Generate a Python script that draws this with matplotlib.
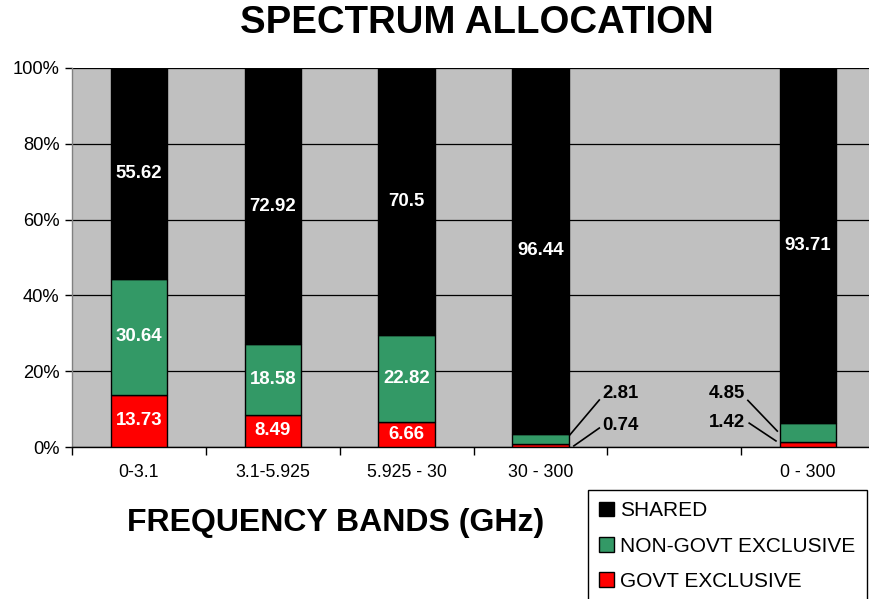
import matplotlib
matplotlib.use("Agg")
import matplotlib.pyplot as plt
from matplotlib.patches import Patch
import numpy as np

plt.rcParams['font.family'] = ['Liberation Sans', 'DejaVu Sans']

categories = ["0-3.1", "3.1-5.925", "5.925 - 30", "30 - 300", "", "0 - 300"]
govt = [13.73, 8.49, 6.66, 0.74, None, 1.42]
nongovt = [30.64, 18.58, 22.82, 2.81, None, 4.85]
shared = [55.62, 72.92, 70.5, 96.44, None, 93.71]
series_names = ["SHARED", "NON-GOVT EXCLUSIVE", "GOVT EXCLUSIVE"]
yticks = [0, 20, 40, 60, 80, 100]

c_red = "#FF0000"
c_green = "#339966"
c_black = "#000000"
c_bg = "#C0C0C0"

W, H = 869, 599
fig = plt.figure(figsize=(W / 100, H / 100), dpi=100)
left, right, top, bottom = 72, 875, 68, 447
ax = fig.add_axes([left / W, 1 - bottom / H, (right - left) / W, (bottom - top) / H])
ax.set_facecolor(c_bg)

idx = [i for i, v in enumerate(govt) if v is not None]
x = np.array(idx, dtype=float)
g = np.array([govt[i] for i in idx])
n = np.array([nongovt[i] for i in idx])
s = np.array([shared[i] for i in idx])
tot = g + n + s
gp, np_, sp = g / tot * 100, n / tot * 100, s / tot * 100

bw = 0.42
ax.bar(x, gp, bw, color=c_red, edgecolor="black", linewidth=1.0, zorder=3)
ax.bar(x, np_, bw, bottom=gp, color=c_green, edgecolor="black", linewidth=1.0, zorder=3)
ax.bar(x, sp, bw, bottom=gp + np_, color=c_black, edgecolor="black", linewidth=1.0, zorder=3)

fs_lab = 13.4
lab_kw = dict(color="white", fontsize=fs_lab, fontweight="bold", ha="center", va="center", zorder=4)
for xi, gv, nv, sv, gpp, npp, spp in zip(x, g, n, s, gp, np_, sp):
    ax.text(xi, gpp + npp + spp / 2, f"{sv:g}", **lab_kw)
    if npp > 8:
        ax.text(xi, gpp + npp / 2, f"{nv:g}", **lab_kw)
        ax.text(xi, gpp / 2, f"{gv:g}", **lab_kw)

# leader-line labels for small segments
out_kw = dict(color="black", fontsize=fs_lab, fontweight="bold", va="center", zorder=4)
i3 = idx.index(3)
i5 = idx.index(5)
ax.plot([3.22, 3.44], [3.2, 12.4], color="black", lw=1.2, zorder=4, clip_on=False)
ax.text(3.46, 14.0, f"{n[i3]:g}", ha="left", **out_kw)
ax.plot([3.25, 3.44], [0.3, 5.0], color="black", lw=1.2, zorder=4, clip_on=False)
ax.text(3.46, 5.8, f"{g[i3]:g}", ha="left", **out_kw)
ax.plot([4.55, 4.77], [12.3, 4.2], color="black", lw=1.2, zorder=4)
ax.text(4.53, 14.0, f"{n[i5]:g}", ha="right", **out_kw)
ax.plot([4.56, 4.76], [6.3, 1.6], color="black", lw=1.2, zorder=4)
ax.text(4.53, 6.5, f"{g[i5]:g}", ha="right", **out_kw)

ax.set_xlim(-0.5, len(categories) - 0.5)
ax.set_ylim(0, 100)
ax.set_yticks(yticks)
ax.set_yticklabels([f"{t}%" for t in yticks], fontsize=13.2)
ax.yaxis.grid(True, color="#000000", linewidth=0.9, zorder=1)
ax.set_axisbelow(True)

ax.set_xticks(np.arange(len(categories)))
ax.set_xticklabels(categories, fontsize=12.8)
ax.tick_params(axis="x", length=0, pad=12)
ax.set_xticks(np.arange(len(categories) + 1) - 0.5, minor=True)
ax.tick_params(axis="x", which="minor", length=6, width=1, direction="out")
ax.tick_params(axis="y", length=5, width=1, direction="out", pad=4)

for sp_name in ["top", "right"]:
    ax.spines[sp_name].set_visible(False)
ax.spines["left"].set_color("#808080")
ax.spines["left"].set_linewidth(1)
ax.spines["bottom"].set_color("black")
ax.spines["bottom"].set_linewidth(1)

fig.text(477 / W, 1 - 23 / H, "SPECTRUM ALLOCATION", fontsize=27.6, fontweight="bold",
         ha="center", va="center")
fig.text(336 / W, 1 - 523 / H, "FREQUENCY BANDS (GHz)", fontsize=23, fontweight="bold",
         ha="center", va="center")

handles = [Patch(facecolor=c_black, edgecolor="black"),
           Patch(facecolor=c_green, edgecolor="black"),
           Patch(facecolor=c_red, edgecolor="black")]
leg = fig.legend(handles, series_names, loc="upper left",
                 bbox_to_anchor=(588 / W, 1 - 490 / H), fontsize=15,
                 frameon=True, fancybox=False, edgecolor="black", framealpha=1,
                 handlelength=0.7, handleheight=0.7, handletextpad=0.3,
                 labelspacing=0.77, borderpad=0.55, borderaxespad=0)
leg.get_frame().set_linewidth(1)

fig.savefig("out.png", dpi=100)
